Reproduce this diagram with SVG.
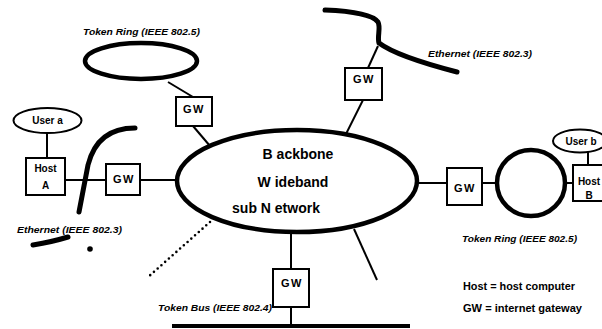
<svg xmlns="http://www.w3.org/2000/svg" width="602" height="329" viewBox="0 0 602 329">
<style>
  .thin { fill: none; stroke: #000; stroke-width: 2; }
  .thick { fill: none; stroke: #000; stroke-width: 5; stroke-linecap: round; }
  .ring { fill: none; stroke: #000; stroke-width: 4.5; }
  .box { fill: #fff; stroke: #000; stroke-width: 2; }
  .node { fill: #fff; stroke: #000; stroke-width: 2; }
  .t { font-family: "Liberation Sans", Arial, sans-serif; font-weight: bold; fill: #000; }
  .lbl { font-family: "Liberation Sans", Arial, sans-serif; font-weight: bold; font-style: italic; font-size: 9px; fill: #000; }
  .gw { font-size: 11px; letter-spacing: 1.5px; }
  .small { font-size: 10px; }
  .big { font-size: 14px; }
  .dots { fill: none; stroke: #000; stroke-width: 2.6; stroke-linecap: round; stroke-dasharray: 0 5; }
</style>
<rect width="602" height="329" fill="#fff"/>
<g id="connectors">
  <line class="thin" x1="168" y1="82" x2="193" y2="97"/>
  <line class="thin" x1="193" y1="126" x2="210" y2="146"/>
  <line class="thin" x1="378" y1="46" x2="368" y2="68"/>
  <line class="thin" x1="363" y1="100" x2="346" y2="134"/>
  <line class="thin" x1="47" y1="133" x2="47" y2="158"/>
  <line class="thin" x1="65" y1="180" x2="106" y2="180"/>
  <line class="thin" x1="140" y1="180" x2="178" y2="180"/>
  <line class="thin" x1="416" y1="183" x2="447" y2="183"/>
  <line class="thin" x1="482" y1="183" x2="497" y2="183"/>
  <line class="thin" x1="565" y1="183" x2="573" y2="183"/>
  <line class="thin" x1="588" y1="152" x2="588" y2="165"/>
  <line class="thin" x1="291" y1="232" x2="291" y2="269"/>
  <line class="thin" x1="291" y1="307" x2="291" y2="326"/>
  <line class="thin" x1="354" y1="229" x2="377" y2="280"/>
  <path class="dots" d="M210,222 L147,278"/>
</g>
<g id="backbone">
  <ellipse class="ring" cx="297" cy="181" rx="120" ry="51" fill="#fff"/>
  <text class="t big" x="298" y="159" text-anchor="middle">B ackbone</text>
  <text class="t big" x="293" y="187" text-anchor="middle">W ideband</text>
  <text class="t big" x="276" y="213" text-anchor="middle">sub N etwork</text>
</g>
<g id="token-ring-top">
  <ellipse class="ring" cx="141" cy="61" rx="56" ry="18"/>
  <text class="lbl" x="83" y="35" textLength="117" lengthAdjust="spacingAndGlyphs">Token Ring (IEEE 802.5)</text>
</g>
<g id="gw-top-left">
  <rect class="box" x="176" y="97" width="36" height="29"/>
  <text class="t gw" x="194" y="113" text-anchor="middle">GW</text>
</g>
<g id="ethernet-top">
  <path class="thick" d="M325,10 C350,11 372,14 378,22 C381,28 377,36 379,43 C395,55 430,65 457,72"/>
  <text class="lbl" x="428" y="57" textLength="104" lengthAdjust="spacingAndGlyphs">Ethernet (IEEE 802.3)</text>
</g>
<g id="gw-top-right">
  <rect class="box" x="345" y="68" width="37" height="32"/>
  <text class="t gw" x="364" y="83" text-anchor="middle">GW</text>
</g>
<g id="user-a">
  <ellipse class="node" cx="47.5" cy="120.5" rx="34" ry="12.5"/>
  <text class="t small" x="47.5" y="124" text-anchor="middle">User a</text>
</g>
<g id="host-a">
  <rect class="box" x="26" y="158" width="39" height="37"/>
  <text class="t small" x="45.5" y="172" text-anchor="middle">Host</text>
  <text class="t small" x="45.5" y="189" text-anchor="middle">A</text>
</g>
<g id="ethernet-left">
  <path class="thick" d="M135,128 C105,128 93,145 88,165 L79,212"/>
  <path class="thick" d="M68,237 C55,241 45,243 33,245"/>
  <text class="lbl" x="17" y="233" textLength="105" lengthAdjust="spacingAndGlyphs">Ethernet (IEEE 802.3)</text>
  <circle cx="90" cy="249" r="2.8" fill="#000"/>
</g>
<g id="gw-left">
  <rect class="box" x="106" y="164" width="34" height="31"/>
  <text class="t gw" x="124" y="183" text-anchor="middle">GW</text>
</g>
<g id="gw-right">
  <rect class="box" x="447" y="168" width="35" height="37"/>
  <text class="t gw" x="465" y="192" text-anchor="middle">GW</text>
</g>
<g id="token-ring-right">
  <ellipse class="ring" cx="531" cy="183" rx="34" ry="33"/>
  <text class="lbl" x="462" y="242" textLength="115" lengthAdjust="spacingAndGlyphs">Token Ring (IEEE 802.5)</text>
</g>
<g id="user-b">
  <ellipse class="node" cx="580" cy="141" rx="27" ry="11.5"/>
  <text class="t small" x="581" y="145" text-anchor="middle">User b</text>
</g>
<g id="host-b">
  <rect class="box" x="573" y="165" width="38" height="36"/>
  <text class="t small" x="589" y="185" text-anchor="middle">Host</text>
  <text class="t small" x="589" y="199" text-anchor="middle">B</text>
</g>
<g id="gw-bottom">
  <rect class="box" x="273" y="269" width="36" height="38"/>
  <text class="t gw" x="292" y="287" text-anchor="middle">GW</text>
</g>
<g id="token-bus">
  <line x1="172" y1="326" x2="410" y2="326" stroke="#000" stroke-width="4"/>
  <text class="lbl" x="158" y="311" textLength="114" lengthAdjust="spacingAndGlyphs">Token Bus (IEEE 802.4)</text>
</g>
<g id="legend">
  <text class="t small" x="463" y="290" textLength="112" lengthAdjust="spacingAndGlyphs">Host = host computer</text>
  <text class="t small" x="463" y="312" textLength="119" lengthAdjust="spacingAndGlyphs">GW = internet gateway</text>
</g>
</svg>
